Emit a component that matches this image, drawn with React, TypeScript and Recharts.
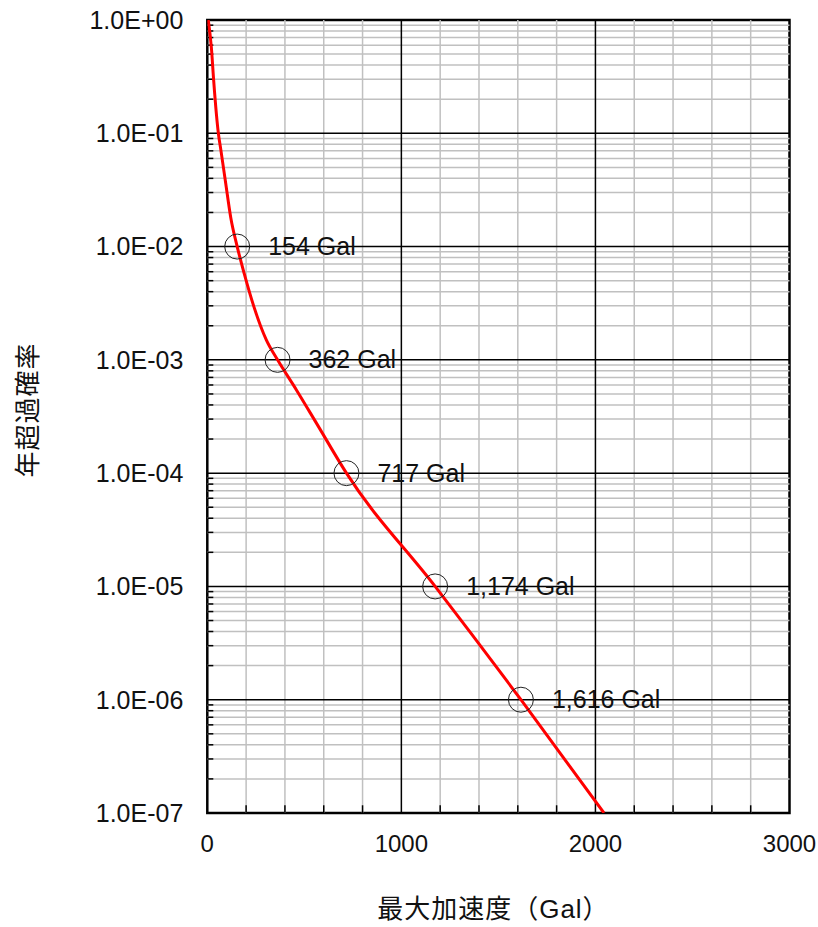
import React from "react";
import {
  ComposedChart,
  Line,
  Scatter,
  XAxis,
  YAxis,
  ReferenceLine,
  ReferenceArea,
} from "recharts";

// Hazard curve: peak acceleration (Gal) vs annual exceedance probability
const curveAcc = [5, 21, 33, 47, 57, 70, 95, 121, 154, 190, 240, 304, 362, 460, 563, 717, 1174, 1616, 2044];
const curveProb = [1.0, 0.57, 0.29, 0.147, 0.1, 0.071, 0.036, 0.018, 0.01, 0.0058, 0.00295, 0.0015, 0.001, 0.00054, 0.000275, 0.0001, 0.00001, 0.000001, 0.0000001];

// Marked points
const markAcc = [154, 362, 717, 1174, 1616];
const markProb = [1e-2, 1e-3, 1e-4, 1e-5, 1e-6];
const markLabels = ["154 Gal", "362 Gal", "717 Gal", "1,174 Gal", "1,616 Gal"];

// Axes
const xTicks = [0, 1000, 2000, 3000];
const xMinorGrid = [200, 400, 600, 800, 1200, 1400, 1600, 1800, 2200, 2400, 2600, 2800];
const xMajorGrid = [1000, 2000];
const yTicks = [1, 1e-1, 1e-2, 1e-3, 1e-4, 1e-5, 1e-6, 1e-7];
const yTickLabels = ["1.0E+00", "1.0E-01", "1.0E-02", "1.0E-03", "1.0E-04", "1.0E-05", "1.0E-06", "1.0E-07"];
const minorMultipliers = [2, 3, 4, 5, 6, 7, 8, 9];

const xTitle = "最大加速度（Gal）";
const yTitle = "年超過確率";

const curveData = curveAcc.map((x, i) => ({ x, y: curveProb[i] }));
const markData = markAcc.map((x, i) => ({ x, y: markProb[i], label: markLabels[i] }));

const yMinorGrid: number[] = [];
yTicks.slice(1).forEach((d) => {
  minorMultipliers.forEach((m) => yMinorGrid.push(d * m));
});
const yMajorGrid = yTicks.slice(1, -1);

const FONT = "'Liberation Sans', Arial, 'Noto Sans CJK JP', sans-serif";
const TEXT = "#111";

const fmtY = (v: number) => {
  const i = yTicks.findIndex((t) => Math.abs(Math.log10(t) - Math.log10(v)) < 1e-6);
  return i >= 0 ? yTickLabels[i] : "";
};

const MarkShape = (props: any) => {
  const { cx, cy, payload } = props;
  if (cx == null || cy == null) return null;
  return (
    <g>
      <circle cx={cx} cy={cy} r={12.5} fill="none" stroke="#222" strokeWidth={1} />
      <text x={cx + 31} y={cy + 8.5} fontSize={25} fontFamily={FONT} fill={TEXT}>
        {payload.label}
      </text>
    </g>
  );
};

export default function App() {
  return (
    <div style={{ position: "absolute", left: 0, top: 0, width: 818, height: 927 }}>
      <ComposedChart
        width={818}
        height={927}
        margin={{ top: 20, right: 28.5, bottom: 0, left: 0 }}
      >
        <XAxis
          dataKey="x"
          type="number"
          domain={[0, 3000]}
          ticks={xTicks}
          interval={0}
          allowDataOverflow
          height={114}
          tickLine={false}
          tickSize={0}
          tickMargin={22}
          axisLine={false}
          tick={{ fontSize: 24, fontFamily: FONT, fill: TEXT }}
          label={{
            content: (p: any) => {
              const vb = p.viewBox;
              return (
                <text
                  x={vb.x + vb.width / 2 - 5}
                  y={909}
                  textAnchor="middle"
                  dominantBaseline="central"
                  fontSize={26}
                  letterSpacing={1}
                  fontFamily={FONT}
                  fill={TEXT}
                >
                  {xTitle}
                </text>
              );
            },
          }}
        />
        <YAxis
          dataKey="y"
          type="number"
          scale="log"
          domain={[1e-7, 1]}
          ticks={yTicks}
          interval={0}
          allowDataOverflow
          width={207.3}
          tickLine={false}
          tickSize={0}
          tickMargin={24}
          axisLine={false}
          tickFormatter={fmtY}
          tick={{ fontSize: 25, fontFamily: FONT, fill: TEXT }}
          label={{
            content: () => (
              <text
                x={28}
                y={410}
                transform="rotate(-90 28 410)"
                textAnchor="middle"
                dominantBaseline="central"
                fontSize={26}
                letterSpacing={1}
                fontFamily={FONT}
                fill={TEXT}
              >
                {yTitle}
              </text>
            ),
          }}
        />

        {xMinorGrid.map((v) => (
          <ReferenceLine key={"xm" + v} x={v} stroke="#c0c0c0" strokeWidth={1.5} />
        ))}
        {yMinorGrid.map((v) => (
          <ReferenceLine key={"ym" + v} y={v} stroke="#c0c0c0" strokeWidth={1.5} />
        ))}
        {xMajorGrid.map((v) => (
          <ReferenceLine key={"xM" + v} x={v} stroke="#000" strokeWidth={1.5} />
        ))}
        {yMajorGrid.map((v) => (
          <ReferenceLine key={"yM" + v} y={v} stroke="#000" strokeWidth={1.5} />
        ))}
        {yMinorGrid.map((v) => (
          <ReferenceLine
            key={"yt" + v}
            segment={[{ x: 0, y: v }, { x: 31, y: v }]}
            stroke="#000"
            strokeWidth={1.5}
          />
        ))}
        {xMinorGrid.map((v) => (
          <ReferenceLine
            key={"xt" + v}
            segment={[{ x: v, y: 1e-7 }, { x: v, y: 1.17e-7 }]}
            stroke="#000"
            strokeWidth={1.5}
          />
        ))}
        <ReferenceArea
          x1={0}
          x2={3000}
          y1={1e-7}
          y2={1}
          fill="none"
          fillOpacity={0}
          stroke="#000"
          strokeWidth={2.5}
        />

        <Line
          data={curveData}
          dataKey="y"
          type="monotone"
          stroke="#ff0000"
          strokeWidth={3}
          dot={false}
          activeDot={false}
          isAnimationActive={false}
        />
        <Scatter
          data={markData}
          dataKey="y"
          shape={<MarkShape />}
          isAnimationActive={false}
        />
      </ComposedChart>
    </div>
  );
}
